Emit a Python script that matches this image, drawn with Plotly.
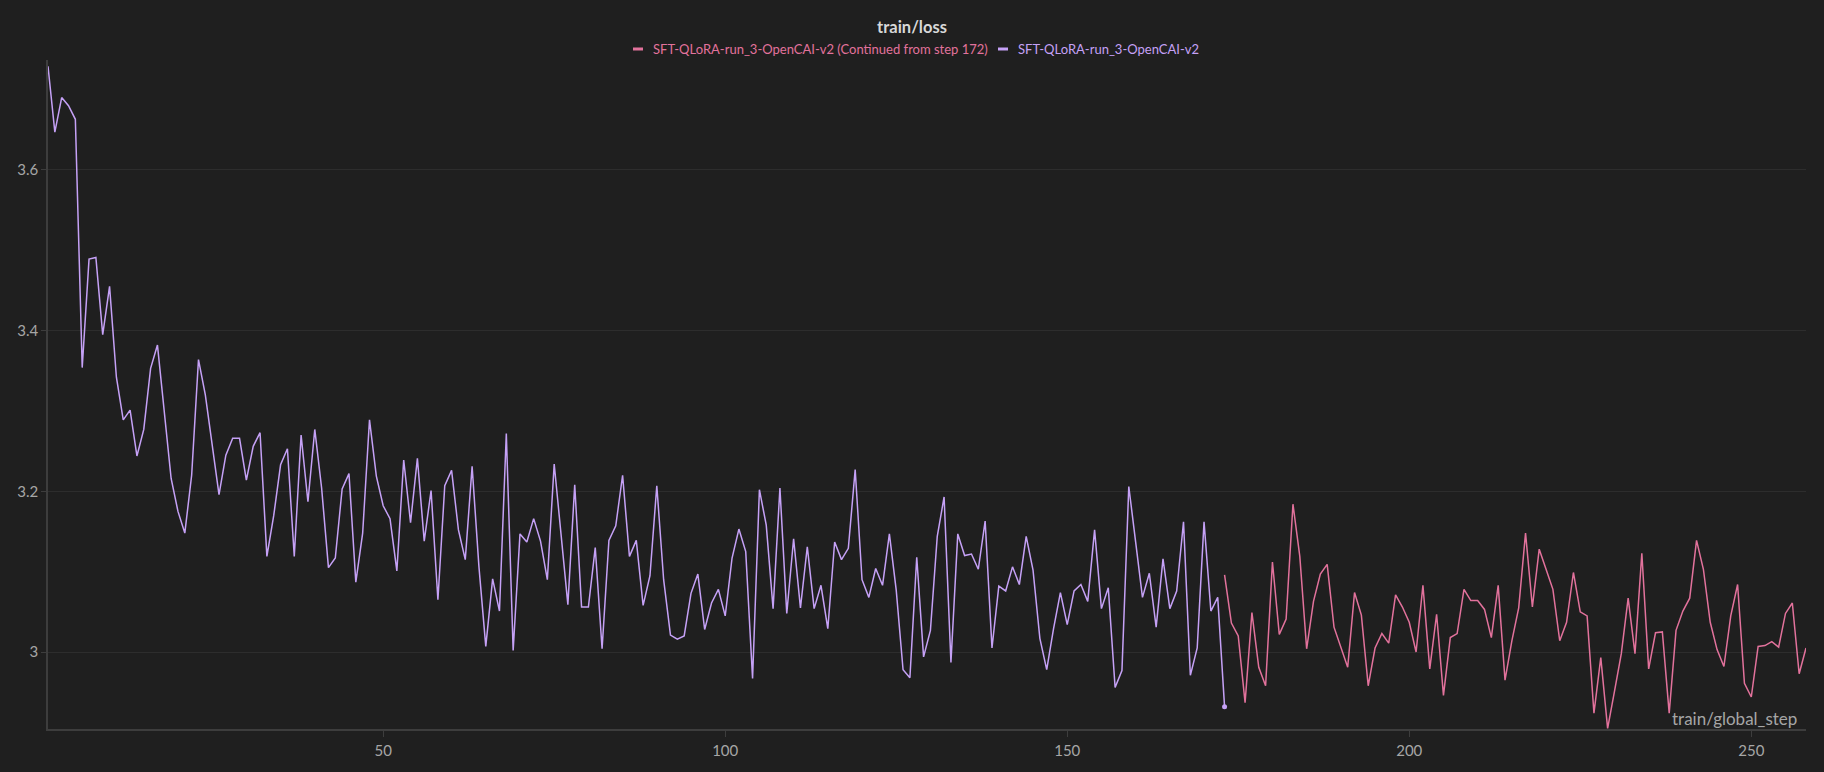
import plotly.graph_objects as go

# train/loss per global step
run_name = "SFT-QLoRA-run_3-OpenCAI-v2"
resumed_name = "SFT-QLoRA-run_3-OpenCAI-v2 (Continued from step 172)"

run_steps = list(range(1, 174))
run_loss = [
    3.729, 3.647, 3.690, 3.680, 3.663, 3.354, 3.489, 3.491, 3.395, 3.455,
    3.342, 3.289, 3.301, 3.244, 3.277, 3.353, 3.382, 3.299, 3.216, 3.175,
    3.148, 3.220, 3.364, 3.320, 3.258, 3.196, 3.245, 3.266, 3.266, 3.214,
    3.256, 3.273, 3.119, 3.170, 3.233, 3.253, 3.119, 3.270, 3.187, 3.277,
    3.204, 3.105, 3.117, 3.203, 3.222, 3.087, 3.148, 3.289, 3.219, 3.182,
    3.166, 3.101, 3.239, 3.161, 3.241, 3.138, 3.201, 3.065, 3.207, 3.226,
    3.152, 3.115, 3.231, 3.106, 3.007, 3.091, 3.051, 3.272, 3.002, 3.147,
    3.137, 3.166, 3.138, 3.090, 3.234, 3.150, 3.059, 3.208, 3.056, 3.056,
    3.130, 3.004, 3.139, 3.157, 3.220, 3.119, 3.139, 3.058, 3.095, 3.207,
    3.090, 3.021, 3.016, 3.020, 3.073, 3.097, 3.028, 3.061, 3.078, 3.045,
    3.117, 3.153, 3.125, 2.967, 3.202, 3.158, 3.054, 3.204, 3.048, 3.141,
    3.055, 3.131, 3.054, 3.083, 3.029, 3.137, 3.115, 3.129, 3.227, 3.090,
    3.068, 3.104, 3.083, 3.147, 3.077, 2.978, 2.968, 3.118, 2.994, 3.027,
    3.144, 3.193, 2.987, 3.147, 3.120, 3.122, 3.103, 3.163, 3.005, 3.082,
    3.076, 3.106, 3.084, 3.144, 3.102, 3.017, 2.978, 3.029, 3.074, 3.034,
    3.076, 3.084, 3.063, 3.152, 3.054, 3.080, 2.956, 2.977, 3.206, 3.137,
    3.068, 3.098, 3.031, 3.116, 3.054, 3.076, 3.162, 2.971, 3.005, 3.162,
    3.051, 3.068, 2.932,
]

resumed_steps = list(range(173, 259))
resumed_loss = [
    3.096, 3.036, 3.020, 2.937, 3.049, 2.981, 2.958, 3.112, 3.022, 3.041,
    3.184, 3.119, 3.004, 3.063, 3.097, 3.109, 3.031, 3.007, 2.981, 3.074,
    3.046, 2.958, 3.005, 3.023, 3.011, 3.071, 3.056, 3.037, 3.000, 3.083,
    2.979, 3.047, 2.946, 3.018, 3.023, 3.078, 3.064, 3.064, 3.053, 3.018,
    3.083, 2.965, 3.014, 3.055, 3.148, 3.056, 3.128, 3.103, 3.078, 3.014,
    3.037, 3.099, 3.050, 3.045, 2.924, 2.993, 2.905, 2.951, 2.998, 3.067,
    2.998, 3.123, 2.979, 3.024, 3.025, 2.924, 3.027, 3.051, 3.067, 3.139,
    3.103, 3.037, 3.003, 2.982, 3.045, 3.084, 2.961, 2.944, 3.007, 3.008,
    3.013, 3.006, 3.048, 3.061, 2.973, 3.005,
]

y_ticks = [3.0, 3.2, 3.4, 3.6]
y_labels = ["3", "3.2", "3.4", "3.6"]
x_ticks = [50, 100, 150, 200, 250]

PINK = "#e2729c"
PURPLE = "#c5a1f6"
BG = "#1f1f1f"
FONT = "Lato, Roboto, sans-serif"

W, H = 1824, 772
L, R, T, B = 48, 18, 60, 43


def px_x(px):
    return (px - L) / (W - L - R)


def px_y(py):
    return (H - B - py) / (H - T - B)


fig = go.Figure()
fig.add_trace(go.Scatter(x=resumed_steps, y=resumed_loss, mode="lines",
                         name=resumed_name, line=dict(color=PINK, width=1.5)))
fig.add_trace(go.Scatter(x=run_steps, y=run_loss, mode="lines",
                         name=run_name, line=dict(color=PURPLE, width=1.5)))
# dot on the last logged point of the original run
fig.add_trace(go.Scatter(x=run_steps[-1:], y=run_loss[-1:], mode="markers",
                         marker=dict(color=PURPLE, size=5), showlegend=False))

fig.update_layout(
    width=W, height=H,
    paper_bgcolor=BG, plot_bgcolor=BG,
    font=dict(family=FONT, color="#a6a6a6", size=15),
    margin=dict(l=L, r=R, t=T, b=B, autoexpand=False),
    title=dict(text="<b>train/loss</b>", x=0.5, xanchor="center",
               y=1 - 27 / H, yanchor="middle",
               font=dict(size=16.5, color="#d8d8d8", family=FONT)),
    showlegend=False,
)
fig.update_xaxes(range=[1, 258], tickvals=x_ticks, showgrid=False, zeroline=False,
                 showline=True, linecolor="#3d3d3d", linewidth=1.5,
                 ticks="outside", ticklen=6, tickcolor="#3d3d3d",
                 ticklabelstandoff=1,
                 tickfont=dict(size=15, color="#a6a6a6"))
fig.update_yaxes(range=[2.9042, 3.7368], tickvals=y_ticks, ticktext=y_labels,
                 showgrid=True, gridcolor="#2d2d2d", zeroline=False,
                 showline=True, linecolor="#3d3d3d", linewidth=1.5,
                 ticks="outside", ticklen=5, tickcolor="#3d3d3d",
                 tickfont=dict(size=15, color="#a6a6a6"))

# wandb-style legend: short dash + coloured run name
for name, color, x0 in [(resumed_name, PINK, 633), (run_name, PURPLE, 998)]:
    fig.add_shape(type="line", xref="paper", yref="paper",
                  x0=px_x(x0), x1=px_x(x0 + 10), y0=px_y(49), y1=px_y(49),
                  line=dict(color=color, width=3))
    fig.add_annotation(text=name, xref="paper", yref="paper",
                       x=px_x(x0 + 18), y=px_y(49), xanchor="left", yanchor="middle",
                       showarrow=False, font=dict(size=13, color=color, family=FONT))

fig.add_annotation(text="train/global_step", xref="paper", yref="paper",
                   x=px_x(1799), y=px_y(718), xanchor="right", yanchor="middle",
                   showarrow=False, font=dict(size=17, color="#a6a6a6", family=FONT))

fig.write_html("out.html", config={"displayModeBar": False},
               post_script="document.body.style.margin='0';")
